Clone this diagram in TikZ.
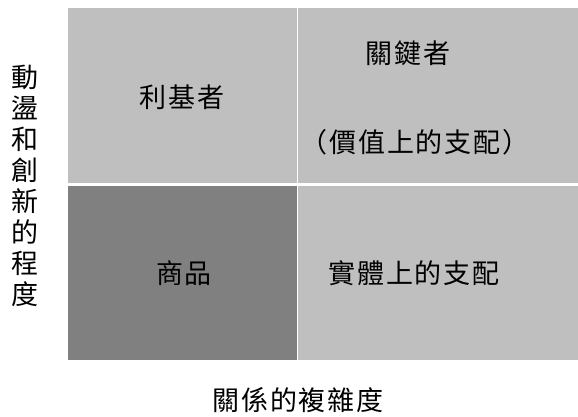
\documentclass[tikz,border=0pt]{standalone}
\usepackage{fontspec}
\newfontfamily\cjk[LetterSpace=7]{Noto Sans CJK TC}
\definecolor{lightcell}{HTML}{BFBFBF}
\definecolor{darkcell}{HTML}{808080}
\begin{document}
\begin{tikzpicture}[x=1pt,y=-1pt,
  cell/.style={draw=none,inner sep=0pt,anchor=north west},
  lbl/.style={inner sep=0pt,font=\cjk\fontsize{27}{31}\selectfont}]
\useasboundingbox (0,0) rectangle (578,416);
\fill[white] (0,0) rectangle (578,416);
\node[cell,fill=lightcell,minimum width=229pt,minimum height=175pt] (tl) at (68,8) {};
\node[cell,fill=lightcell,minimum width=280pt,minimum height=175pt] (tr) at (298,8) {};
\node[cell,fill=darkcell,minimum width=229pt,minimum height=174pt] (bl) at (68,186) {};
\node[cell,fill=lightcell,minimum width=280pt,minimum height=174pt] (br) at (298,186) {};
\node[lbl] (t1) at (182,97) {利基者};
\node[lbl] (t2) at (408,53) {關鍵者};
\node[lbl] (t3) at (415,142) {（價值上的支配）};
\node[lbl] (t4) at (184,273) {商品};
\node[lbl] (t5) at (414,273) {實體上的支配};
\node[lbl,align=center] (ylab) at (25,186) {動\\盪\\和\\創\\新\\的\\程\\度};
\node[lbl] (xlab) at (298,400) {關係的複雜度};
\end{tikzpicture}
\end{document}
